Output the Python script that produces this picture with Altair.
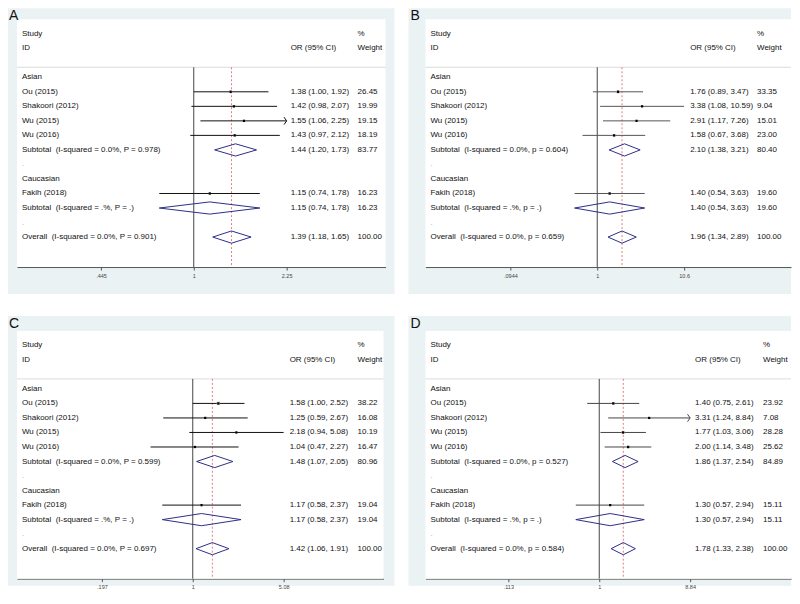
import math
import altair as alt
import pandas as pd

# ---------------- data ----------------
STUDIES = ["Ou (2015)", "Shakoori (2012)", "Wu (2015)", "Wu (2016)", "Fakih (2018)"]
STUDY_GROUP = ["Asian", "Asian", "Asian", "Asian", "Caucasian"]
GROUPS = ["Asian", "Caucasian"]

A_EST = [1.38, 1.42, 1.55, 1.43, 1.15]
A_LOW = [1.00, 0.98, 1.06, 0.97, 0.74]
A_HIGH = [1.92, 2.07, 2.25, 2.12, 1.78]
A_WEIGHT = [26.45, 19.99, 19.15, 18.19, 16.23]
A_SUB_EST = [1.44, 1.15]
A_SUB_LOW = [1.20, 0.74]
A_SUB_HIGH = [1.73, 1.78]
A_SUB_WEIGHT = [83.77, 16.23]
A_SUB_ISQ = ["0.0%", ".%"]
A_SUB_P = ["0.978", "."]
A_OVERALL = [1.39, 1.18, 1.65, 100.00]
A_OVERALL_ISQ = "0.0%"
A_OVERALL_P = "0.901"
A_TICKS = [0.445, 1, 2.25]
A_ARROW = ["Wu (2015)"]

B_EST = [1.76, 3.38, 2.91, 1.58, 1.40]
B_LOW = [0.89, 1.08, 1.17, 0.67, 0.54]
B_HIGH = [3.47, 10.59, 7.26, 3.68, 3.63]
B_WEIGHT = [33.35, 9.04, 15.01, 23.00, 19.60]
B_SUB_EST = [2.10, 1.40]
B_SUB_LOW = [1.38, 0.54]
B_SUB_HIGH = [3.21, 3.63]
B_SUB_WEIGHT = [80.40, 19.60]
B_SUB_ISQ = ["0.0%", ".%"]
B_SUB_P = ["0.604", "."]
B_OVERALL = [1.96, 1.34, 2.89, 100.00]
B_OVERALL_ISQ = "0.0%"
B_OVERALL_P = "0.659"
B_TICKS = [0.0944, 1, 10.6]
B_ARROW = []

C_EST = [1.58, 1.25, 2.18, 1.04, 1.17]
C_LOW = [1.00, 0.59, 0.94, 0.47, 0.58]
C_HIGH = [2.52, 2.67, 5.08, 2.27, 2.37]
C_WEIGHT = [38.22, 16.08, 10.19, 16.47, 19.04]
C_SUB_EST = [1.48, 1.17]
C_SUB_LOW = [1.07, 0.58]
C_SUB_HIGH = [2.05, 2.37]
C_SUB_WEIGHT = [80.96, 19.04]
C_SUB_ISQ = ["0.0%", ".%"]
C_SUB_P = ["0.599", "."]
C_OVERALL = [1.42, 1.06, 1.91, 100.00]
C_OVERALL_ISQ = "0.0%"
C_OVERALL_P = "0.697"
C_TICKS = [0.197, 1, 5.08]
C_ARROW = []

D_EST = [1.40, 3.31, 1.77, 2.00, 1.30]
D_LOW = [0.75, 1.24, 1.03, 1.14, 0.57]
D_HIGH = [2.61, 8.84, 3.06, 3.48, 2.94]
D_WEIGHT = [23.92, 7.08, 28.28, 25.62, 15.11]
D_SUB_EST = [1.86, 1.30]
D_SUB_LOW = [1.37, 0.57]
D_SUB_HIGH = [2.54, 2.94]
D_SUB_WEIGHT = [84.89, 15.11]
D_SUB_ISQ = ["0.0%", ".%"]
D_SUB_P = ["0.527", "."]
D_OVERALL = [1.78, 1.33, 2.38, 100.00]
D_OVERALL_ISQ = "0.0%"
D_OVERALL_P = "0.584"
D_TICKS = [0.113, 1, 8.84]
D_ARROW = ["Shakoori (2012)"]

# ---------------- style ----------------
FONT = "Liberation Sans, Arial, sans-serif"
GRAY_BG = "#EAF2F3"
NAVY = "#2E2E86"
RED = "#D0484E"
ROW0_Y = 73.0
ROW_STEP = 14.545
SEP_Y = 63.0
AXIS_Y = 263.0
WHITE_TOP = 15.0


def yrow(py):
    return (py - ROW0_Y) / ROW_STEP


def build_rows(est, low, high, weight, sub_est, sub_low, sub_high, sub_w,
               sub_isq, sub_p, overall, ov_isq, ov_p, pch):
    rows = []
    r = 0
    for gi, g in enumerate(GROUPS):
        rows.append(dict(row=r, label=g, kind="group"))
        r += 1
        for i, s in enumerate(STUDIES):
            if STUDY_GROUP[i] == g:
                rows.append(dict(row=r, label=s, kind="study", est=est[i],
                                 lo=low[i], hi=high[i], w=weight[i]))
                r += 1
        rows.append(dict(row=r, label=f"Subtotal\u00a0 (I-squared = {sub_isq[gi]}, {pch} = {sub_p[gi]})",
                         kind="sum", est=sub_est[gi], lo=sub_low[gi], hi=sub_high[gi], w=sub_w[gi]))
        r += 1
        rows.append(dict(row=r, label=".", kind="dot"))
        r += 1
    rows.append(dict(row=r, label=f"Overall\u00a0 (I-squared = {ov_isq}, {pch} = {ov_p})",
                     kind="overall", est=overall[0], lo=overall[1], hi=overall[2], w=overall[3]))
    for d in rows:
        if "est" in d:
            d["ortxt"] = f"{d['est']:.2f} ({d['lo']:.2f}, {d['hi']:.2f})"
            d["wtxt"] = f"{d['w']:.2f}"
    return rows


def panel(letter, data, ticks, arrows, g):
    rows = build_rows(*data)
    df = pd.DataFrame(rows)
    cx, cy, W, H = g["cx"], g["cy"], g["W"], g["H"]
    L = ticks[2]
    k = (g["up"] - g["null"]) / math.log(L)
    dlo = math.exp(-(g["null"] - g["wbl"]) / k)
    dhi = math.exp((g["wbr"] - g["null"]) / k)
    xs = alt.Scale(type="log", domain=[dlo, dhi], range=[g["wbl"] - cx, g["wbr"] - cx], nice=False)
    ys = alt.Scale(domain=[yrow(0 + cy), yrow(H + cy)], range=[0, H], nice=False, zero=False)
    off = (AXIS_Y - cy) - H

    xaxis = alt.Axis(values=ticks, orient="bottom", offset=off, grid=False, title=None,
                     labelExpr="datum.value < 1 ? substring(toString(datum.value), 1) : toString(datum.value)",
                     domainColor="#555", tickColor="#555", tickSize=3, domainWidth=1, tickWidth=1,
                     labelFontSize=5.5, labelColor="#444", labelPadding=3, labelFont=FONT,
                     labelFlush=False, labelOverlap=False)

    def X(field):
        return alt.X(field, scale=xs, axis=xaxis, title=None)

    def Y(field):
        return alt.Y(field, scale=ys, axis=None, title=None)

    one = pd.DataFrame({"a": [0]})
    lcol = g["line"]

    white = alt.Chart(one).mark_rect(color="white").encode(
        x=alt.value(g["wbl"] - cx), x2=alt.value(g["wbr"] - cx),
        y=alt.value(WHITE_TOP - cy), y2=alt.value(AXIS_Y - cy))

    sep = alt.Chart(pd.DataFrame({"r": [yrow(SEP_Y)]})).mark_rule(color="#DCDCDC", strokeWidth=1).encode(
        x=alt.value(g["wbl"] - cx), x2=alt.value(g["wbr"] - cx),
        y=Y("r:Q"))

    nulldf = pd.DataFrame({"v": [ticks[1]], "r1": [yrow(SEP_Y)], "r2": [yrow(AXIS_Y)]})
    nullline = alt.Chart(nulldf).mark_rule(color="#444", strokeWidth=1).encode(
        x=X("v:Q"), y=Y("r1:Q"), y2="r2:Q")

    ovdf = df[df.kind == "overall"].assign(r1=yrow(SEP_Y), r2=yrow(AXIS_Y))
    refline = alt.Chart(ovdf).mark_rule(color=RED, strokeWidth=0.7, strokeDash=[2, 2]).encode(
        x=X("est:Q"), y=Y("r1:Q"), y2="r2:Q")

    sdf = df[df.kind == "study"]
    ci = alt.Chart(sdf).mark_rule(color=lcol, strokeWidth=1).encode(
        x=X("lo:Q"), x2="hi:Q", y=Y("row:Q"))

    boxes = alt.Chart(sdf).mark_square(color="#B4B4B4", opacity=1).encode(
        x=X("est:Q"), y=Y("row:Q"),
        size=alt.Size("w:Q", scale=alt.Scale(domain=[0, 40], range=[0, 40 * g["box"]]), legend=None))

    dots = alt.Chart(sdf).mark_square(color="black", size=5, opacity=1).encode(
        x=X("est:Q"), y=Y("row:Q"))

    layers = [white, sep, nullline, refline, ci, boxes, dots]

    adf = sdf[sdf.label.isin(arrows)]
    if len(adf):
        arr = alt.Chart(adf).mark_point(shape="M -0.7 -1 L 0 0 L -0.7 1", filled=False,
                                        size=55, strokeWidth=1, color=lcol, opacity=1).encode(
            x=X("hi:Q"), y=Y("row:Q"))
        layers.append(arr)

    # diamonds
    pts = []
    h = 0.42
    for d in rows:
        if d["kind"] in ("sum", "overall"):
            for o, (xv, yv) in enumerate([(d["lo"], d["row"]), (d["est"], d["row"] - h),
                                          (d["hi"], d["row"]), (d["est"], d["row"] + h),
                                          (d["lo"], d["row"])]):
                pts.append(dict(id=d["row"], o=o, x=xv, y=yv))
    dia = alt.Chart(pd.DataFrame(pts)).mark_line(color=NAVY, strokeWidth=1).encode(
        x=X("x:Q"), y=Y("y:Q"), detail="id:N", order="o:Q")
    layers.append(dia)

    tstyle = dict(align="left", baseline="middle", fontSize=8, font=FONT)
    labdf = df[df.kind != "dot"]
    lab = alt.Chart(labdf).mark_text(color="#111", **tstyle).encode(
        x=alt.value(g["wbl"] + 5 - cx), y=Y("row:Q"), text="label:N")
    dotlab = alt.Chart(df[df.kind == "dot"]).mark_text(color="#AAA", **tstyle).encode(
        x=alt.value(g["wbl"] + 5 - cx), y=Y("row:Q"), text="label:N")
    nd = df[df.ortxt.notna()]
    ortx = alt.Chart(nd).mark_text(color="#111", **tstyle).encode(
        x=alt.value(g["orx"] - cx), y=Y("row:Q"), text="ortxt:N")
    wtx = alt.Chart(nd).mark_text(color="#111", **tstyle).encode(
        x=alt.value(g["wx"] - cx), y=Y("row:Q"), text="wtxt:N")

    hdr = pd.DataFrame({
        "t": ["Study", "ID", "OR (95% CI)", "%", "Weight"],
        "row": [-3, -2, -2, -3, -2],
        "col": ["l", "l", "o", "w", "w"],
    })
    h_l = alt.Chart(hdr[hdr.col == "l"]).mark_text(color="#111", **tstyle).encode(
        x=alt.value(g["wbl"] + 5 - cx), y=Y("row:Q"), text="t:N")
    h_o = alt.Chart(hdr[hdr.col == "o"]).mark_text(color="#111", **tstyle).encode(
        x=alt.value(g["orx"] - cx), y=Y("row:Q"), text="t:N")
    h_w = alt.Chart(hdr[hdr.col == "w"]).mark_text(color="#111", **tstyle).encode(
        x=alt.value(g["wx"] - cx), y=Y("row:Q"), text="t:N")

    let = alt.Chart(pd.DataFrame({"t": [letter]})).mark_text(
        align="left", baseline="top", fontSize=14, font=FONT, color="#111").encode(
        x=alt.value(max(1, 2 - cx)), y=alt.value(max(1, 1 - cy)), text="t:N")

    layers += [lab, dotlab, ortx, wtx, h_l, h_o, h_w, let]
    return alt.layer(*layers).properties(width=W, height=H)


GEO_A = dict(cx=4, cy=4, W=387, H=286, wbl=13, wbr=382, null=190, up=283, orx=287, wx=354, line="#111", box=0.3)
GEO_B = dict(cx=0, cy=4, W=383, H=286, wbl=17, wbr=383, null=189, up=276, orx=282, wx=349, line="#555", box=1.6)
GEO_C = dict(cx=4, cy=0, W=387, H=270, wbl=13, wbr=380, null=189, up=280, orx=286, wx=354, line="#111", box=1.6)
GEO_D = dict(cx=0, cy=0, W=383, H=270, wbl=17, wbr=383, null=191, up=282, orx=287, wx=355, line="#444", box=1.6)

pa = panel("A", (A_EST, A_LOW, A_HIGH, A_WEIGHT, A_SUB_EST, A_SUB_LOW, A_SUB_HIGH, A_SUB_WEIGHT,
                 A_SUB_ISQ, A_SUB_P, A_OVERALL, A_OVERALL_ISQ, A_OVERALL_P, "P"), A_TICKS, A_ARROW, GEO_A)
pb = panel("B", (B_EST, B_LOW, B_HIGH, B_WEIGHT, B_SUB_EST, B_SUB_LOW, B_SUB_HIGH, B_SUB_WEIGHT,
                 B_SUB_ISQ, B_SUB_P, B_OVERALL, B_OVERALL_ISQ, B_OVERALL_P, "p"), B_TICKS, B_ARROW, GEO_B)
pc = panel("C", (C_EST, C_LOW, C_HIGH, C_WEIGHT, C_SUB_EST, C_SUB_LOW, C_SUB_HIGH, C_SUB_WEIGHT,
                 C_SUB_ISQ, C_SUB_P, C_OVERALL, C_OVERALL_ISQ, C_OVERALL_P, "P"), C_TICKS, C_ARROW, GEO_C)
pd_ = panel("D", (D_EST, D_LOW, D_HIGH, D_WEIGHT, D_SUB_EST, D_SUB_LOW, D_SUB_HIGH, D_SUB_WEIGHT,
                  D_SUB_ISQ, D_SUB_P, D_OVERALL, D_OVERALL_ISQ, D_OVERALL_P, "p"), D_TICKS, D_ARROW, GEO_D)

row1 = alt.hconcat(pa, pb, spacing=14)
row2 = alt.hconcat(pc, pd_, spacing=14)
chart = alt.vconcat(row1, row2, spacing=22, padding=0, background="white").configure_view(
    fill=GRAY_BG, stroke=None)

chart.save("out.html", embed_options={"renderer": "svg", "actions": False})
